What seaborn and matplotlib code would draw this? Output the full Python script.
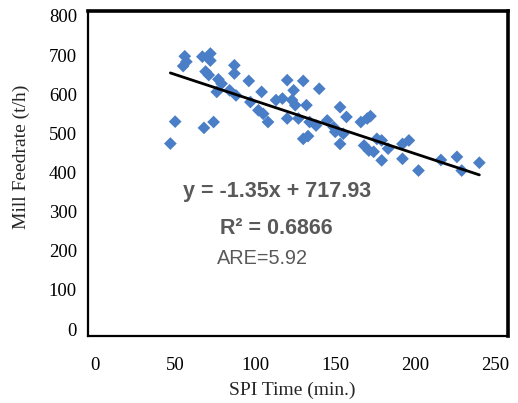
import matplotlib
matplotlib.use("Agg")
import matplotlib.pyplot as plt
import numpy as np
import pandas as pd
import seaborn as sns

# SPI time (min.) and mill feedrate (t/h) observations
spi_time = [47, 50, 55, 56, 57, 67, 72, 72, 69, 71, 77, 76, 87, 87, 84, 88,
            68, 74, 79, 96, 104, 120, 130, 124, 140, 113, 117, 123, 125, 132,
            97, 102, 105, 108, 120, 127, 134, 138, 145, 130, 133, 149, 153,
            157, 166, 170, 172, 150, 155, 153, 168, 171, 174, 176, 179, 183,
            179, 192, 196, 192, 202, 216, 226, 229, 240]
feedrate = [474, 530, 672, 697, 683, 696, 704, 686, 658, 649, 638, 606, 674,
            653, 610, 597, 514, 529, 627, 634, 606, 636, 634, 610, 614, 585,
            589, 585, 572, 572, 580, 559, 550, 529, 538, 538, 529, 520, 533,
            486, 493, 516, 567, 542, 529, 538, 544, 504, 499, 473, 469, 456,
            453, 486, 482, 461, 431, 473, 482, 435, 405, 432, 440, 405, 425]

# Linear trendline coefficients and fit statistics
slope = -1.35
intercept = 717.93
r_squared = 0.6866
are_value = 5.92

x_ticks = [0, 50, 100, 150, 200, 250]
y_ticks = [0, 100, 200, 300, 400, 500, 600, 700, 800]

df = pd.DataFrame({"spi": spi_time, "feed": feedrate})

sns.set_theme(style="white")
plt.rcParams["font.family"] = ["Liberation Serif", "DejaVu Serif"]

fig = plt.figure(figsize=(5.18, 4.03), dpi=100)
ax = fig.add_axes([0.170, 0.166, 0.811, 0.807])

sns.scatterplot(data=df, x="spi", y="feed", marker="D", s=42,
                color="#4A7EC6", edgecolor="none", ax=ax, zorder=2)

x_line = np.array([min(spi_time), max(spi_time)])
sns.lineplot(x=x_line, y=slope * x_line + intercept, color="black",
             linewidth=2.0, ax=ax, zorder=3)

ax.set_xlim(-4.4, 258)
ax.set_ylim(-18, 813)
ax.set_xticks(x_ticks)
ax.set_yticks(y_ticks)
ax.tick_params(axis="y", length=0, labelsize=13.5, colors="black", pad=8)
ax.tick_params(axis="x", length=0, labelsize=13.5, colors="black", pad=15)
ax.set_xlabel("SPI Time (min.)", fontsize=14)
ax.set_ylabel("Mill Feedrate (t/h)", fontsize=14)
ax.xaxis.set_label_coords(0.486, -0.140)
ax.yaxis.set_label_coords(-0.138, 0.551)

for side in ["left", "bottom"]:
    ax.spines[side].set_color("black")
    ax.spines[side].set_linewidth(1.6)
for side in ["top", "right"]:
    ax.spines[side].set_color("black")
    ax.spines[side].set_linewidth(2.6)

text_font = ["Liberation Sans", "DejaVu Sans"]
ax.text(0.226, 0.445, f"y = {slope:.2f}x + {intercept:.2f}", transform=ax.transAxes,
        ha="left", va="center", fontsize=15.5, fontweight="bold", color="#595959",
        family=text_font)
ax.text(0.314, 0.330, f"R² = {r_squared:.4f}", transform=ax.transAxes,
        ha="left", va="center", fontsize=15.5, fontweight="bold", color="#595959",
        family=text_font)
ax.text(0.307, 0.238, f"ARE={are_value:.2f}", transform=ax.transAxes,
        ha="left", va="center", fontsize=14.3, color="#595959",
        family=text_font)

fig.savefig("out.png", dpi=100)
